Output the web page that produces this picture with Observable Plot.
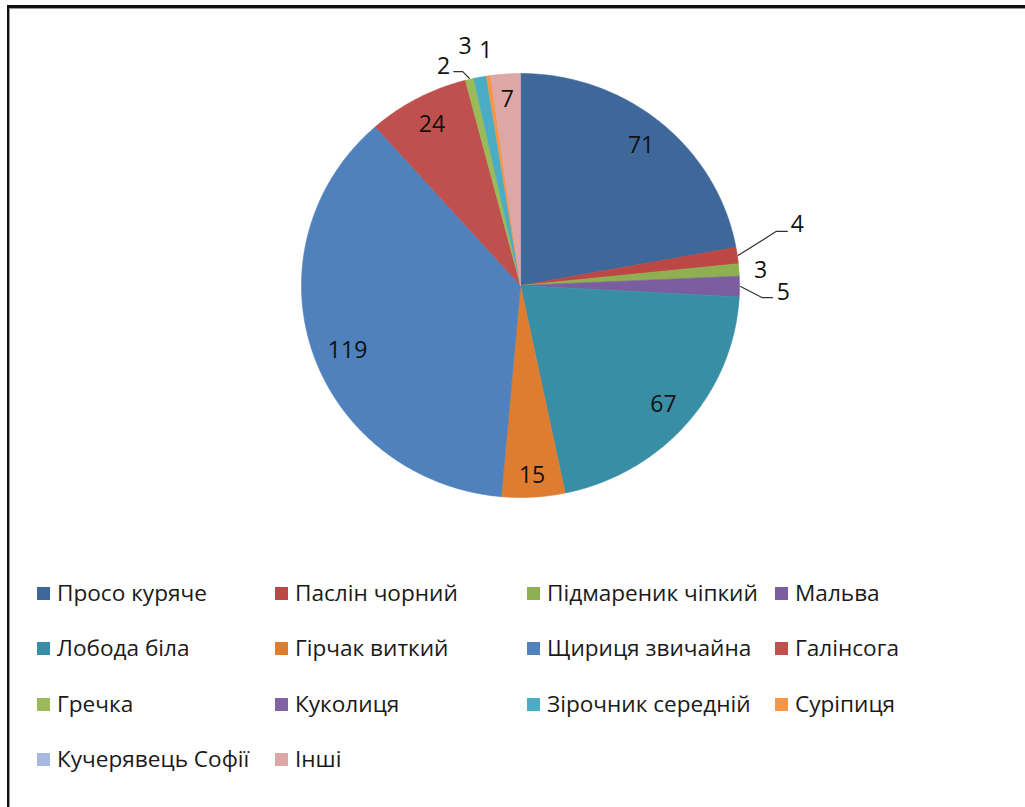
<!DOCTYPE html>
<html><head><meta charset="utf-8">
<script src="https://cdn.jsdelivr.net/npm/d3@7"></script>
<script src="https://cdn.jsdelivr.net/npm/@observablehq/plot@0.6"></script>
<style>
body{margin:0;background:#fff;font-family:"Open Sans", Lato, sans-serif;}
#wrap{position:relative;width:1025px;height:807px;overflow:hidden;background:#fff;}
#frame{position:absolute;left:7px;top:5px;width:1100px;height:900px;border-left:2px solid #111;border-top:3px solid #111;box-shadow:inset 1px 1px 0 #999;}
#chart{position:absolute;left:0;top:0;}
#legend{position:absolute;left:0;top:0;}
.item{position:absolute;display:flex;align-items:center;font-size:22.6px;color:#1a1a1a;white-space:nowrap;line-height:26px;}
.sw{width:13px;height:13px;margin-right:7px;flex:none}
</style></head><body>
<div id="wrap"><div id="frame"></div><div id="chart"></div><div id="legend"></div></div>
<script>
const names = ["Просо куряче","Паслін чорний","Підмареник чіпкий","Мальва","Лобода біла","Гірчак виткий","Щириця звичайна","Галінсога","Гречка","Куколиця","Зірочник середній","Суріпиця","Кучерявець Софії","Інші"];
const values = [71,4,3,5,67,15,119,24,2,0,3,1,0,7];
const colors = ["#3e6899","#bb4845","#8fb052","#7b5e9f","#388ea5","#de7c30","#4f81bd","#c0504d","#9bbb59","#8064a2","#4bacc6","#f79646","#a7b9e0","#dca7a6"];

// label placement (layout config, not data): default inside at radius 0.86
const labelPlacement = {
  1: {da: -4.7, r: 1.297, leader: {ea: -4.2, er: 1.196, dx: 0.05}},
  2: {da: 0.5, r: 1.098},
  3: {da: 1.3, r: 1.201, leader: {ea: 2.7, er: 1.106, dx: 0.046}},
  5: {da: 0, r: 0.90},
  6: {da: -3, r: 0.847},
  8: {da: -5.3, r: 1.091, leader: {ea: -1.2, er: 1.043, dx: -0.041}},
  10: {da: -2, r: 1.155},
  11: {da: 0.3, r: 1.12},
  13: {da: 0, r: 0.88}
};

const data = names.map((name, i) => ({name, value: values[i], color: colors[i], i}));
const arcs = d3.pie().sort(null).value(d => d.value).startAngle(0).endAngle(2 * Math.PI)(data);
const pt = (a, r) => ({x: r * Math.sin(a), y: r * Math.cos(a)});
const rad = d => d * Math.PI / 180;

const slices = [];
const labels = [];
const leaders = [];
for (const a of arcs) {
  const d = a.data;
  if (d.value <= 0) continue;
  const n = Math.max(2, Math.ceil((a.endAngle - a.startAngle) / rad(0.5)));
  slices.push({...pt(0, 0), name: d.name, color: d.color});
  for (let k = 0; k <= n; k++) {
    const ang = a.startAngle + (a.endAngle - a.startAngle) * k / n;
    slices.push({...pt(ang, 1), name: d.name, color: d.color});
  }
  slices.push({...pt(0, 0), name: d.name, color: d.color});
  const mid = (a.startAngle + a.endAngle) / 2;
  const p = labelPlacement[d.i] || {da: 0, r: 0.86};
  labels.push({...pt(mid + rad(p.da), p.r), text: String(d.value)});
  if (p.leader) {
    const L = p.leader;
    const s = pt(mid, 1.005);
    const e = pt(mid + rad(L.ea), L.er);
    leaders.push({...s, k: d.i}, {...e, k: d.i}, {x: e.x + L.dx, y: e.y, k: d.i});
  }
}

const cx = 520, cy = 285, rx = 219, ry = 212;
const chart = Plot.plot({
  width: 1025, height: 560, margin: 0,
  x: {domain: [-1, 1], range: [cx - rx, cx + rx], axis: null},
  y: {domain: [-1, 1], range: [cy + ry, cy - ry], axis: null},
  color: {type: "identity"},
  style: {background: "transparent", overflow: "visible"},
  marks: [
    Plot.line(slices, {x: "x", y: "y", z: "name", fill: "color", stroke: "color", strokeWidth: 0.6, curve: "linear"}),
    Plot.line(leaders, {x: "x", y: "y", z: "k", stroke: "#333", strokeWidth: 1.2, curve: "linear"}),
    Plot.text(labels, {x: "x", y: "y", text: "text", fontSize: 23, fill: "#111", fontFamily: "Open Sans", textAnchor: "middle", lineAnchor: "middle"})
  ]
});
document.getElementById("chart").appendChild(chart);

// legend
const colX = [37, 275, 527, 775];
const rowY = [593, 648, 704, 759];
const leg = document.getElementById("legend");
names.forEach((nm, i) => {
  const el = document.createElement("div");
  el.className = "item";
  el.style.left = colX[i % 4] + "px";
  el.style.top = (rowY[Math.floor(i / 4)] - 13) + "px";
  el.innerHTML = `<span class="sw" style="background:${colors[i]}"></span><span>${nm}</span>`;
  leg.appendChild(el);
});
</script>
</body></html>
